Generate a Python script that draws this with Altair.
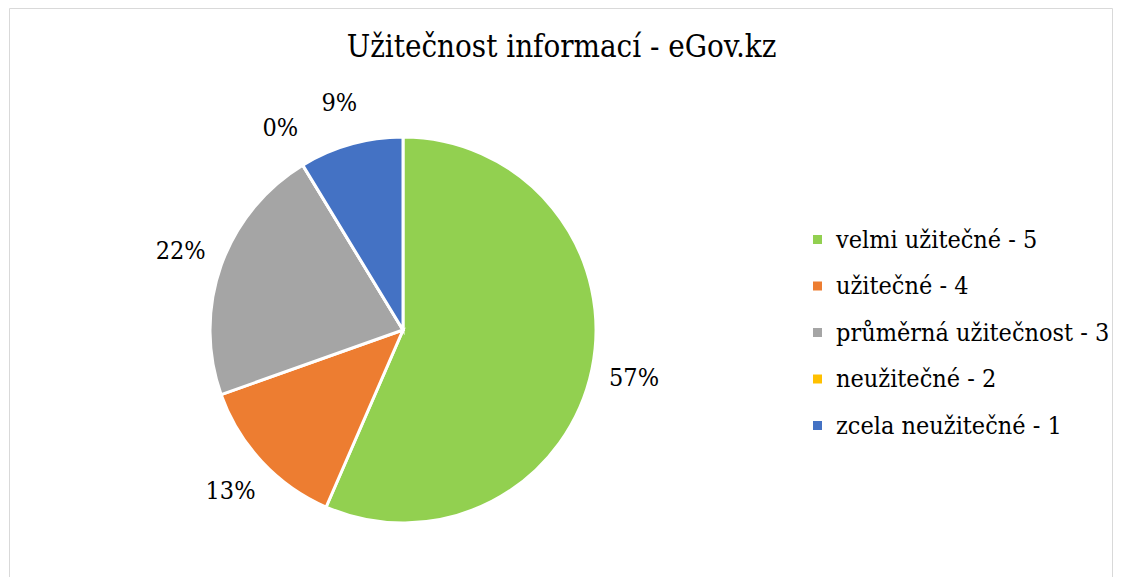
import altair as alt
import pandas as pd

categories = ["velmi užitečné - 5", "užitečné - 4", "průměrná užitečnost - 3",
              "neužitečné - 2", "zcela neužitečné - 1"]
counts = [13, 3, 5, 0, 2]
colors = ["#92D050", "#ED7D31", "#A5A5A5", "#FFC000", "#4472C4"]

total = sum(counts)
df = pd.DataFrame({
    "kategorie": categories,
    "pocet": counts,
    "poradi": list(range(len(categories))),
    "label": [f"{round(c / total * 100)}%" for c in counts],
})

FONT = "DejaVu Serif Condensed, DejaVu Serif"

theta = alt.Theta("pocet:Q", stack=True)
order = alt.Order("poradi:Q")
color = alt.Color(
    "kategorie:N",
    sort=categories,
    scale=alt.Scale(domain=categories, range=colors),
    legend=alt.Legend(
        title=None, orient="none", legendX=805, legendY=227,
        symbolType="square", symbolSize=81, symbolStrokeWidth=0,
        labelFont=FONT, labelFontSize=25, labelColor="black",
        labelOffset=6, rowPadding=20.5, labelLimit=400,
    ),
)

base = alt.Chart(df)

arcs = base.mark_arc(stroke="white", strokeWidth=3, outerRadius=193).encode(
    theta=theta, order=order, color=color,
    x=alt.value(403), y=alt.value(330),
)

labels = base.mark_text(radius=236, font=FONT, fontSize=25, color="black").encode(
    theta=theta, order=order, text="label:N",
    x=alt.value(403), y=alt.value(330),
)

frame = alt.Chart(alt.Data(values=[{}])).mark_rect(
    fill=None, stroke="#D9D9D9", strokeWidth=1
).encode(
    x=alt.value(9.5), x2=alt.value(1112.5),
    y=alt.value(8.5), y2=alt.value(700),
)

chart = alt.layer(frame, arcs, labels).properties(
    width=1123, height=577,
    autosize=alt.AutoSizeParams(type="none"),
    padding=0,
    title=alt.TitleParams(
        "Užitečnost informací - eGov.kz", font=FONT, fontSize=31,
        fontWeight="normal", color="black", anchor="middle", offset=-88,
        baseline="alphabetic",
    ),
).configure_view(stroke=None)

chart.save("out.html", embed_options={"renderer": "svg", "actions": False})
